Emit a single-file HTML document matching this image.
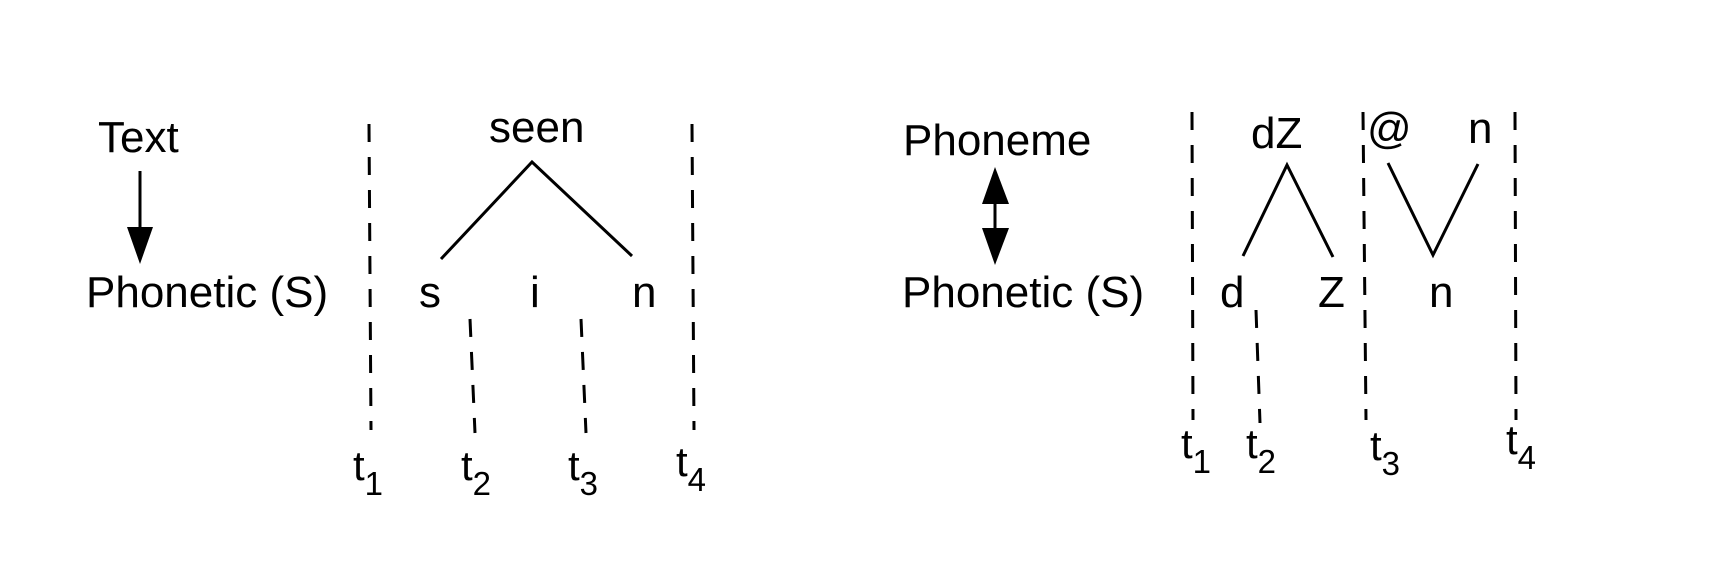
<!DOCTYPE html>
<html><head><style>
html,body{margin:0;padding:0;background:#fff;}
svg{display:block;}
text{font-family:"Liberation Sans",Arial,sans-serif;fill:#000;}
</style></head><body>
<svg width="1718" height="574" viewBox="0 0 1718 574" xmlns="http://www.w3.org/2000/svg">
<g font-size="44">
<text x="98" y="152">Text</text>
<text x="86" y="307">Phonetic (S)</text>
<text x="489" y="142">seen</text>
<text x="419" y="307">s</text>
<text x="530" y="307">i</text>
<text x="632" y="307">n</text>
<text x="903" y="155">Phoneme</text>
<text x="902" y="307">Phonetic (S)</text>
<text x="1251" y="148">dZ</text>
<text x="1220" y="307">d</text>
<text x="1318" y="307">Z</text>
<text x="1367" y="143">@</text>
<text x="1468" y="143">n</text>
<text x="1429" y="307">n</text>
</g>
<g font-size="42">
<text x="353" y="480">t<tspan font-size="33" dy="15">1</tspan></text>
<text x="461" y="480">t<tspan font-size="33" dy="15">2</tspan></text>
<text x="568" y="480">t<tspan font-size="33" dy="15">3</tspan></text>
<text x="676" y="476">t<tspan font-size="33" dy="15">4</tspan></text>
<text x="1181" y="458">t<tspan font-size="33" dy="15">1</tspan></text>
<text x="1246" y="458">t<tspan font-size="33" dy="15">2</tspan></text>
<text x="1370" y="460">t<tspan font-size="33" dy="15">3</tspan></text>
<text x="1506" y="454">t<tspan font-size="33" dy="15">4</tspan></text>
</g>
<g stroke="#000" stroke-width="3" fill="none">
<line x1="140" y1="171" x2="140" y2="232"/>
<polyline points="441,259 532,162 632,256"/>
<polyline points="1243,256 1287,165 1333,257"/>
<polyline points="1388,163 1433,255 1478,164"/>
<line x1="995" y1="200" x2="995" y2="232"/>
</g>
<g fill="#000">
<polygon points="127,227 153,227 140,264"/>
<polygon points="982,204 1009,204 995,167"/>
<polygon points="982,228 1009,228 995,265"/>
</g>
<g stroke="#000" stroke-width="3" stroke-dasharray="18 15" fill="none">
<line x1="369" y1="124" x2="371" y2="430"/>
<line x1="470" y1="319" x2="475" y2="433"/>
<line x1="581" y1="319" x2="586" y2="433"/>
<line x1="692" y1="124" x2="694" y2="430"/>
<line x1="1192" y1="112" x2="1193" y2="420"/>
<line x1="1256" y1="310" x2="1260" y2="423"/>
<line x1="1363" y1="112" x2="1366" y2="420"/>
<line x1="1515" y1="112" x2="1516" y2="420"/>
</g>
</svg>
</body></html>
